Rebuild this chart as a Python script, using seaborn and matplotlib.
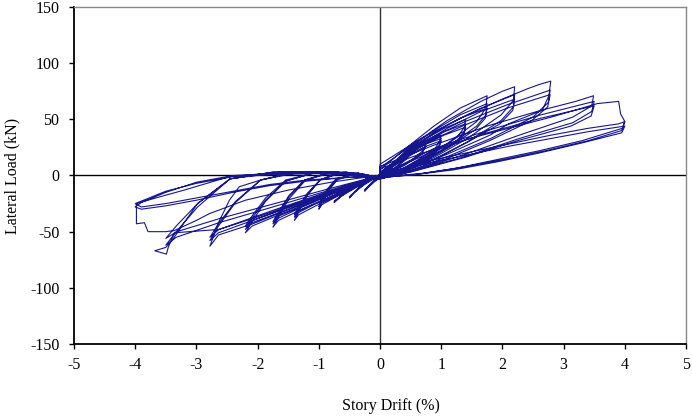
import matplotlib
matplotlib.use("Agg")
import matplotlib.pyplot as plt
import numpy as np
import pandas as pd
import seaborn as sns

# Hysteresis record, one list pair per drift level
drift_l1 = [0, 0.1, 0.2, 0.25, 0.2, 0.1, 0, -0.1, -0.2, -0.25, -0.2, -0.1, 0,
            0.1, 0.25, 0.18, 0.05, -0.1, -0.25, -0.15, 0]
load_l1 = [0, 6, 10, 12, 8, 3, -2, -6, -11, -14, -10, -5, 0,
           5, 11, 6, 0, -5, -13, -7, 0]

drift_l2 = [0.15, 0.3, 0.45, 0.5, 0.45, 0.3, 0.1, 0, -0.15, -0.3, -0.45, -0.5, -0.42, -0.25, -0.1, 0,
            0.2, 0.4, 0.5, 0.42, 0.2, 0, -0.2, -0.4, -0.5, -0.35, -0.15, 0]
load_l2 = [8, 15, 20, 22, 17, 9, 2, -1, -3, -9, -17, -20, -15, -8, -3, 1,
           9, 16, 20, 14, 5, 0, -5, -14, -19, -11, -4, 1]

drift_l3 = [0.2, 0.4, 0.6, 0.75, 0.7, 0.5, 0.25, 0, -0.2, -0.4, -0.6, -0.75, -0.65, -0.4, -0.15, 0,
            0.25, 0.5, 0.75, 0.68, 0.4, 0.1, -0.2, -0.5, -0.75, -0.55, -0.25, 0]
load_l3 = [10, 18, 24, 28, 22, 13, 5, -1, -2, -8, -17, -24, -19, -11, -4, 1,
           9, 18, 26, 19, 9, 1, -3, -12, -23, -15, -6, 0]

drift_l4 = [0, 0.25, 0.5, 0.75, 1.0, 0.98, 0.9, 0.65, 0.4, 0.15, 0,
            -0.25, -0.5, -0.7, -0.85, -0.95, -1.0, -0.95, -0.75, -0.5, -0.25, 0,
            0.25, 0.5, 0.75, 1.0, 0.98, 0.9, 0.65, 0.4, 0.15, 0,
            -0.25, -0.5, -0.7, -0.85, -0.95, -1.0, -0.95, -0.75, -0.5, -0.25, 0,
            0.25, 0.5, 0.75, 1.0, 0.97, 0.88, 0.62, 0.38, 0.12, 0,
            -0.25, -0.5, -0.72, -0.86, -0.95, -1.0, -0.94, -0.72, -0.48, -0.22, 0]
load_l4 = [2, 13, 22, 30, 36, 31, 24, 15, 7, 1, -3,
           1, 0, -4, -14, -24, -30, -26, -20, -13, -6, 0,
           12, 20, 28, 33, 28, 22, 14, 7, 1, -3,
           1, 0, -3, -13, -22, -28, -24, -19, -12, -6, 0,
           11, 19, 26, 31, 26, 20, 12, 6, 0, -2,
           1, 0, -3, -12, -20, -26, -22, -17, -11, -5, 0]

drift_l5 = [0, 0.35, 0.7, 1.05, 1.4, 1.38, 1.26, 0.91, 0.56, 0.21, 0,
            -0.35, -0.7, -0.98, -1.19, -1.33, -1.4, -1.33, -1.05, -0.7, -0.35, 0,
            0.35, 0.7, 1.05, 1.4, 1.38, 1.26, 0.91, 0.56, 0.21, 0,
            -0.35, -0.7, -0.98, -1.19, -1.33, -1.4, -1.33, -1.05, -0.7, -0.35, 0,
            0.35, 0.7, 1.05, 1.4, 1.37, 1.24, 0.9, 0.55, 0.2, 0,
            -0.35, -0.7, -0.98, -1.19, -1.33, -1.4, -1.32, -1.03, -0.68, -0.33, 0]
load_l5 = [3, 17, 31, 42, 50, 43, 34, 21, 10, 2, -3,
           2, 2, -4, -18, -32, -40, -35, -27, -18, -9, 0,
           16, 28, 39, 46, 39, 31, 19, 9, 2, -3,
           2, 2, -4, -17, -30, -37, -33, -25, -17, -8, 0,
           15, 27, 36, 43, 36, 29, 18, 8, 1, -2,
           2, 1, -4, -16, -28, -35, -31, -24, -16, -8, 0]

drift_l6 = [0, 0.44, 0.88, 1.31, 1.75, 1.73, 1.58, 1.14, 0.7, 0.26, 0,
            -0.44, -0.88, -1.23, -1.49, -1.66, -1.75, -1.66, -1.31, -0.88, -0.44, 0,
            0.44, 0.88, 1.31, 1.75, 1.73, 1.58, 1.14, 0.7, 0.26, 0,
            -0.44, -0.88, -1.23, -1.49, -1.66, -1.75, -1.66, -1.31, -0.88, -0.44, 0,
            0.44, 0.88, 1.31, 1.75, 1.72, 1.56, 1.12, 0.68, 0.25, 0,
            -0.44, -0.88, -1.23, -1.49, -1.66, -1.75, -1.65, -1.3, -0.86, -0.42, 0]
load_l6 = [5, 25, 44, 60, 71, 60, 48, 30, 14, 3, -3,
           2, 2, -5, -21, -37, -46, -40, -31, -21, -10, 0,
           23, 40, 54, 64, 54, 44, 27, 13, 3, -3,
           2, 2, -4, -19, -34, -43, -38, -29, -19, -9, 0,
           22, 38, 51, 60, 51, 41, 25, 12, 2, -2,
           2, 1, -4, -18, -33, -41, -36, -28, -18, -9, 0]

drift_l7 = [0, 0.55, 1.1, 1.65, 2.0, 2.2, 2.18, 1.98, 1.43, 0.88, 0.33, 0,
            -0.55, -1.1, -1.54, -1.87, -2.09, -2.2, -2.09, -1.65, -1.1, -0.55, 0,
            0.55, 1.1, 1.65, 2.2, 2.18, 1.98, 1.43, 0.88, 0.33, 0,
            -0.55, -1.1, -1.54, -1.87, -2.09, -2.2, -2.09, -1.65, -1.1, -0.55, 0,
            0.55, 1.1, 1.65, 2.2, 2.17, 1.96, 1.41, 0.86, 0.31, 0,
            -0.55, -1.1, -1.54, -1.87, -2.09, -2.2, -2.08, -1.63, -1.08, -0.53, 0]
load_l7 = [7, 28, 49, 66, 75, 79, 67, 54, 33, 16, 3, -3,
           3, 2, -5, -23, -41, -51, -45, -35, -23, -11, 0,
           26, 45, 60, 72, 61, 49, 30, 14, 3, -3,
           3, 2, -5, -22, -38, -48, -42, -33, -22, -11, 0,
           24, 42, 57, 68, 58, 46, 29, 14, 2, -2,
           2, 2, -4, -20, -36, -45, -40, -31, -21, -10, 0]

drift_l8 = [0, 0.7, 1.39, 2.0, 2.4, 2.6, 2.79, 2.76, 2.65, 2.1, 1.8, 1.1, 0.42, 0,
            -0.7, -1.39, -1.95, -2.3, -2.46, -2.64, -2.78, -2.64, -2.08, -1.39, -0.7, 0,
            0.7, 1.39, 2.08, 2.78, 2.75, 2.5, 1.81, 1.11, 0.42, 0,
            -0.7, -1.39, -1.95, -2.36, -2.64, -2.78, -2.64, -2.08, -1.39, -0.7, 0,
            0.7, 1.39, 2.08, 2.78, 2.74, 2.48, 1.79, 1.09, 0.4, 0,
            -0.7, -1.39, -1.95, -2.36, -2.64, -2.78, -2.63, -2.06, -1.37, -0.68, 0]
load_l8 = [10, 34, 53, 68, 77, 81, 84, 71, 58, 46, 36, 19, 4, -3,
           3, 3, -4, -10, -22, -42, -63, -53, -43, -28, -14, 0,
           30, 48, 63, 76, 65, 52, 33, 17, 3, -3,
           3, 3, -4, -24, -45, -58, -51, -40, -26, -13, 0,
           28, 45, 60, 72, 61, 49, 31, 15, 2, -2,
           3, 2, -4, -23, -43, -55, -48, -38, -25, -12, 0]

drift_l9 = [0, 0.88, 1.75, 2.63, 3.2, 3.49, 3.46, 3.15, 2.28, 1.4, 0.53, 0,
            -0.88, -1.75, -2.45, -2.98, -3.2, -3.4, -3.5, -3.68, -3.49, -3.46, -3.36,
            -2.63, -1.75, -0.88, 0,
            0.88, 1.75, 2.63, 3.5, 3.46, 3.15, 2.28, 1.4, 0.53, 0,
            -0.88, -1.75, -2.45, -2.98, -3.33, -3.5, -3.33, -2.63, -1.75, -0.88, 0,
            0.88, 1.75, 2.63, 3.5, 3.45, 3.12, 2.25, 1.38, 0.5, 0,
            -0.88, -1.75, -2.45, -2.98, -3.33, -3.5, -3.32, -2.6, -1.72, -0.85, 0]
load_l9 = [8, 27, 44, 58, 66, 71, 62, 52, 36, 19, 4, -3,
           3, 3, -3, -25, -42, -58, -64, -67, -70, -64, -51,
           -48, -31, -15, 0,
           24, 40, 54, 66, 57, 47, 33, 17, 4, -3,
           3, 3, -3, -28, -50, -62, -55, -42, -28, -14, 0,
           22, 38, 51, 62, 53, 44, 31, 16, 3, -2,
           3, 2, -3, -25, -45, -56, -50, -38, -25, -12, 0]

drift_l10 = [0, 0.7, 1.4, 2.1, 2.8, 3.3, 3.55, 3.9, 3.93, 4.0, 3.95, 3.4, 2.7, 2.0, 1.3, 0.7, 0.3, 0,
             -0.8, -1.6, -2.46, -3.2, -3.6, -3.98, -3.98, -3.85, -3.79, -3.5, -3.36, -3.0,
             -2.79, -2.2, -1.5, -0.8, -0.3, 0,
             0.7, 1.4, 2.1, 2.8, 3.4, 3.9, 4.0, 3.96, 3.3, 2.6, 1.9, 1.2, 0.6, 0,
             -0.8, -1.6, -2.4, -3.0, -3.5, -3.9, -4.0, -3.9, -3.5, -3.0, -2.4, -1.8, -1.2, -0.6, 0,
             0.7, 1.4, 2.1, 2.8, 3.4, 4.0, 3.95, 3.3, 2.6, 1.9, 1.2, 0.6, 0,
             -0.8, -1.6, -2.4, -3.0, -3.5, -4.0, -3.9, -3.5, -3.0, -2.4, -1.8, -1.2, -0.6, 0]
load_l10 = [6, 20, 32, 42, 52, 60, 64, 66, 55, 48, 40, 31, 22, 14, 7, 2, 0, -2,
            3, 3, -1, -13, -19, -25, -43, -42, -50, -50, -49, -40,
            -34, -22, -13, -6, -2, 0,
            12, 20, 28, 36, 42, 46, 48, 42, 31, 22, 14, 6, 1, -2,
            2, 2, 0, -6, -15, -24, -28, -30, -27, -22, -15, -9, -5, -2, 0,
            10, 18, 26, 33, 39, 44, 38, 29, 20, 12, 5, 1, -2,
            2, 1, -1, -7, -14, -25, -28, -25, -20, -14, -8, -4, -2, 0]

drift_levels = [drift_l1, drift_l2, drift_l3, drift_l4, drift_l5,
                drift_l6, drift_l7, drift_l8, drift_l9, drift_l10]
load_levels = [load_l1, load_l2, load_l3, load_l4, load_l5,
               load_l6, load_l7, load_l8, load_l9, load_l10]

x_ticks = [-5, -4, -3, -2, -1, 0, 1, 2, 3, 4, 5]
y_ticks = [-150, -100, -50, 0, 50, 100, 150]

record = pd.DataFrame({
    "drift": np.concatenate(drift_levels),
    "load": np.concatenate(load_levels),
})

sns.set_theme(style="white")
plt.rcParams["font.family"] = ["Liberation Serif", "DejaVu Serif"]
plt.rcParams["axes.unicode_minus"] = False

fig = plt.figure(figsize=(6.92, 4.16), dpi=100)
ax = fig.add_axes([74 / 692, 1 - 344 / 416, 612 / 692, 337 / 416])

ax.axhline(0, color="black", lw=1.0, zorder=1)
ax.axvline(0, color="#333333", lw=1.0, zorder=1)

sns.lineplot(data=record, x="drift", y="load", sort=False, estimator=None,
             color="#16168f", lw=0.8, ax=ax, zorder=2)

ax.set_xlim(-5, 5)
ax.set_ylim(-150, 150)
ax.set_xticks(x_ticks)
ax.set_yticks(y_ticks)
ax.tick_params(axis="both", direction="out", length=3.5, width=1, color="black",
               labelsize=11.5, labelcolor="black", bottom=True, left=True)
ax.tick_params(axis="y", pad=7)
ax.tick_params(axis="x", pad=6)

for side in ["left", "bottom"]:
    ax.spines[side].set_color("black")
    ax.spines[side].set_linewidth(1.3)
for side in ["top", "right"]:
    ax.spines[side].set_color("#888888")
    ax.spines[side].set_linewidth(1.0)

ax.set_xlabel("Story Drift (%)", fontsize=11.5, color="black")
ax.set_ylabel("Lateral Load (kN)", fontsize=11.5, color="black")
ax.xaxis.set_label_coords(0.518, -0.16)
ax.yaxis.set_label_coords(-0.087, 0.5)

fig.savefig("out.png", dpi=100)
